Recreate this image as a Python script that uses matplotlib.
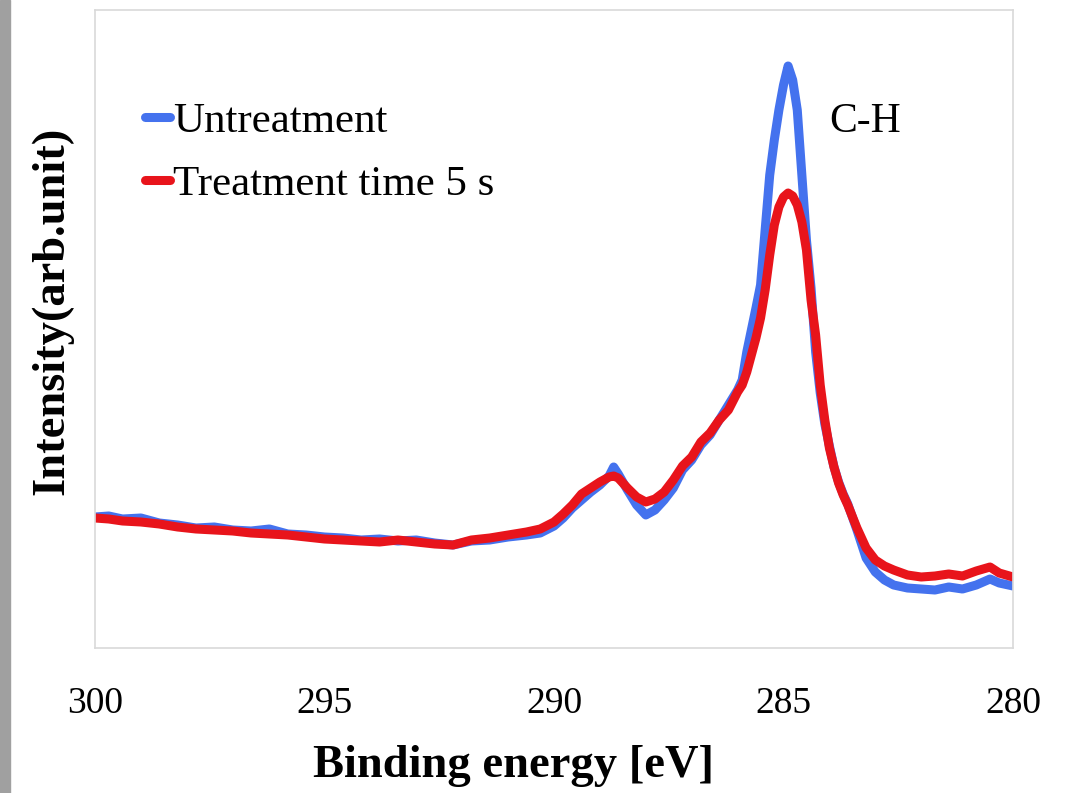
import numpy as np
import matplotlib
matplotlib.use("Agg")
import matplotlib.pyplot as plt
from matplotlib.patches import Rectangle

plt.rcParams['font.family'] = ['Liberation Serif', 'DejaVu Serif']

# binding energy grid (eV) shared by both spectra
energy = [300.0, 299.7, 299.4, 299.0, 298.6, 298.2, 297.8, 297.4, 297.0, 296.6,
          296.2, 295.8, 295.4, 295.0, 294.6, 294.2, 293.8, 293.4, 293.0, 292.6,
          292.2, 291.8, 291.4, 291.0, 290.6, 290.3, 290.0, 289.8, 289.6, 289.4,
          289.2, 289.0, 288.8, 288.7, 288.6, 288.4, 288.2, 288.0, 287.8, 287.6,
          287.4, 287.2, 287.0, 286.8, 286.6, 286.4, 286.2, 286.0, 285.9, 285.8,
          285.7, 285.6, 285.5, 285.4, 285.3, 285.2, 285.1, 285.0, 284.9, 284.8,
          284.7, 284.6, 284.5, 284.4, 284.3, 284.2, 284.1, 284.0, 283.9, 283.8,
          283.7, 283.6, 283.4, 283.2, 283.0, 282.8, 282.6, 282.3, 282.0, 281.7,
          281.4, 281.1, 280.8, 280.5, 280.3, 280.0]

# intensity (arb. unit)
untreated = [131, 132, 129, 130, 125, 123, 120, 121, 118, 117,
             119, 114, 113, 111, 110, 108, 109, 107, 108, 105,
             103, 107, 108, 111, 113, 115, 122, 130, 140, 148,
             156, 163, 172, 181, 174, 158, 143, 133, 138, 148,
             160, 178, 188, 203, 213, 228, 243, 258, 268, 296,
             318, 340, 363, 418, 473, 508, 538, 563, 582, 568,
             538, 473, 408, 360, 296, 255, 224, 202, 181, 166,
             154, 144, 118, 90, 76, 68, 63, 60, 59, 58,
             61, 59, 63, 69, 65, 62]

treated_5s = [130, 129, 127, 126, 124, 121, 119, 118, 117, 115,
              114, 113, 111, 109, 108, 107, 106, 108, 106, 104,
              103, 108, 110, 113, 116, 119, 126, 134, 143, 154,
              160, 166, 171, 172, 170, 160, 151, 146, 149, 156,
              168, 182, 191, 206, 215, 228, 238, 256, 263, 276,
              293, 310, 330, 358, 393, 423, 441, 451, 455, 452,
              443, 426, 398, 348, 313, 263, 228, 200, 181, 165,
              153, 143, 120, 100, 88, 82, 78, 73, 71, 72,
              74, 72, 77, 81, 75, 71]

fig = plt.figure(figsize=(10.71, 7.93), dpi=100)
fig.patches.append(Rectangle((0, 0), 10 / 1071, 1, transform=fig.transFigure,
                             color='#a0a0a0', zorder=0))
ax = fig.add_axes([95 / 1071, 1 - 648 / 793, 918 / 1071, 638 / 793])

ax.plot(energy, untreated, color='#4472ee', linewidth=6.5,
        solid_capstyle='round', label='Untreatment')
ax.plot(energy, treated_5s, color='#e8141b', linewidth=6.5,
        solid_capstyle='round', label='Treatment time 5 s')

ax.set_xlim(300, 280)
ax.set_ylim(0, 638)
ax.set_xticks([300, 295, 290, 285, 280])
ax.set_yticks([])
ax.tick_params(axis='x', length=0, pad=28, labelsize=27)
for s in ax.spines.values():
    s.set_color('#d9d9d9')
    s.set_linewidth(1.2)

ax.set_xlabel('Binding energy [eV]', fontsize=33.5, fontweight='bold')
ax.xaxis.set_label_coords(0.456, -0.152)
ax.set_ylabel('Intensity(arb.unit)', fontsize=33.5, fontweight='bold')
ax.yaxis.set_label_coords(-0.024, 0.528)

ax.text(284.0, 526, 'C-H', fontsize=30, va='center', ha='left')

leg = ax.legend(loc='upper left', bbox_to_anchor=(0.031, 0.89), frameon=False,
                fontsize=31, handlelength=0.58, handletextpad=0.08,
                borderpad=0, labelspacing=0.55)

plt.savefig('out.png', dpi=100)
